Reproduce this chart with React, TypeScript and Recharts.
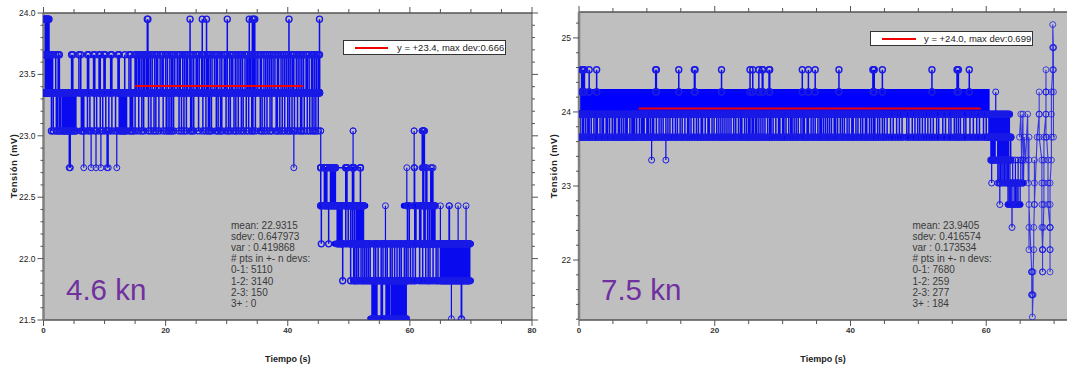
import React from "react";
import { LineChart, Line, XAxis, YAxis, CartesianGrid, ReferenceArea } from "recharts";

// ---------- left chart (4.6 kn) ----------
const leftXTicks = [0,5,10,15,20,25,30,35,40,45,50,55,60,65,70,75,80];
const leftYTicks = [21.5,21.6,21.7,21.8,21.9,22,22.1,22.2,22.3,22.4,22.5,22.6,22.7,22.8,22.9,23,23.1,23.2,23.3,23.4,23.5,23.6,23.7,23.8,23.9,24];
const leftStats = ["mean: 22.9315","sdev: 0.647973","var : 0.419868","# pts in +- n devs:","0-1: 5110","1-2: 3140","2-3: 150","3+ : 0"];
const leftFit = [{t:15,v:23.405},{t:42.5,v:23.405}];
const l2335to2366 = [0.1,0.3,0.5,0.7,0.9,1.1,1.3,1.5,2.0,2.4,2.6,4.6,4.8,5.8,6.1,7.2,7.4,8.2,8.4,9.1,9.3,9.9,10.1,11,11.2,12.2,12.4,13.3,14,14.3,15,15.2,15.5,15.7,16,16.3,16.5,16.8,17,17.2,17.5,17.8,18.2,18.5,18.7,19.1,19.4,19.6,20,20.3,20.7,21,21.2,21.5,21.9,22.2,22.4,22.8,23.1,23.4,23.6,24,24.3,24.6,25,25.2,25.5,25.9,26.1,26.4,26.8,27,27.3,27.6,28,28.3,28.5,28.9,29.2,29.6,29.8,30.1,30.5,30.8,31,31.4,31.7,32,32.3,32.6,33,33.3,33.5,33.9,34.2,34.5,34.8,35.1,35.5,35.7,36.1,36.4,36.7,37,37.3,37.6,37.9,38.3,38.5,38.9,39.2,39.5,39.8,40.1,40.5,40.8,41,41.4,41.7,42,42.3,42.6,43,43.2,43.5,43.9,44.1,44.4,44.7,45,45.2];
const l2335to2304 = [1.3,1.6,2.1,2.3,2.6,2.8,3.1,3.3,3.5,3.7,3.9,4.1,4.3,4.5,4.7,4.9,5.1,5.3,6.2,6.4,6.6,7.2,7.6,8.3,8.7,9.3,9.7,10.2,10.7,11.2,11.8,12.4,12.6,12.8,13,13.2,13.4,13.6,14.2,14.4,14.6,15,15.6,16.1,16.4,17.2,17.6,18.1,18.4,18.9,19.6,20.1,20.4,20.7,21,21.3,22.2,22.6,23,23.4,24.1,24.3,24.6,25.4,26.1,26.6,27,27.2,27.5,28.3,28.6,29,29.2,29.9,30.3,30.6,31.2,31.5,31.9,32.4,32.7,33.2,33.6,34.1,34.3,34.7,35.5,35.8,36.2,36.6,37.1,37.4,38.1,38.3,38.7,39.1,39.5,40,40.3,40.7,41.1,41.6,42.1,42.3,42.7,43.2,43.6,44,44.3,44.6,45];
const l2335to2395 = [0.1,0.2,0.3,0.4,0.5,0.6,0.7,0.8,0.9,17,17.1,24,26,26.7,30.1,33.7,34.2,34.4,34.6,40.2,45.2];
const l2304to2274 = [4.2,4.3,4.4,6.6,7.8,8.6,9.4,10.4,10.6,12,41];
const l2304to2274b = [45.4];
const l2304to2274c = [50.7];
const l2304to2274d = [60.7];
const l2304to2274e = [62,62.1,62.2,62.3,62.4];
const l2274to2243a = [45.4,46,46.2,46.4,47,47.2,47.4,47.6,47.8,49.5,49.7,50.6,50.8,51.9];
const l2243to2212a = [45.5,46.7,48.1,48.3,48.5,48.7,48.9,49.5,49.9,50.3,50.6,50.9,51.2,51.4,51.6,51.8,52,52.2,52.4];
const l2212to2182 = [49,50.3,50.8,51,51.3,51.6,52,52.3,52.6,52.9,53.2,53.5,54.1,54.4,54.8,55.3,55.6,56,56.3,56.8,57.1,57.5,57.9,58.3,58.6,59.1,59.4,59.7,60.1,60.5,60.9,61.6,62.1,62.6,63,63.3,63.8,64.3,64.6,65,65.2,65.4,65.6,65.8,66,66.2,66.4,66.6,66.8,67,67.2,67.4,67.6,67.8,68,68.2,68.4,68.6,68.8,69,69.2,69.4,69.6,69.8];
const l2182to2151 = [53.8,54,54.2,54.4,54.6,55.3,55.5,56.1,56.3,56.5,56.7,57,57.2,57.4,57.6,57.8,58,58.2,58.4,58.6,58.8,59,59.2,59.4];
const l2182to2151b = [66.8,68.4,68.5];
const l2212to2243b = [59.6,59.9,60.8,61,61.6,61.8,62.3,62.5,62.9,63.2,63.5,63.7,63.9,64.1];
const l2212to2243c = [56,65,66.4,66.5,67.9,69.2];
const l2243to2274b = [59.5,60.7,60.8,62.1,62.3,62.6,62.8,63.4,63.6,63.8];
const leftGroups = [
  {base:23.35,tip:23.66,times:l2335to2366},
  {base:23.35,tip:23.04,times:l2335to2304},
  {base:23.35,tip:23.95,times:l2335to2395},
  {base:23.04,tip:22.74,times:l2304to2274},
  {base:23.04,tip:22.74,times:l2304to2274b},
  {base:23.04,tip:22.74,times:l2304to2274c},
  {base:23.04,tip:22.74,times:l2304to2274d},
  {base:23.04,tip:22.74,times:l2304to2274e},
  {base:22.74,tip:22.43,times:l2274to2243a},
  {base:22.43,tip:22.12,times:l2243to2212a},
  {base:22.12,tip:21.82,times:l2212to2182},
  {base:21.82,tip:21.51,times:l2182to2151},
  {base:21.82,tip:21.51,times:l2182to2151b},
  {base:22.12,tip:22.43,times:l2212to2243b},
  {base:22.12,tip:22.43,times:l2212to2243c},
  {base:22.43,tip:22.74,times:l2243to2274b},
];
const leftRunLevels = [23.35,22.43,22.43,22.12,21.82,21.51];
const leftRunStarts = [0,45.3,59,47.7,50.7,53.5];
const leftRunEnds = [45.3,52.7,64.2,70,70,59.5];

// ---------- right chart (7.5 kn) ----------
const rightXTicks = [0,5,10,15,20,25,30,35,40,45,50,55,60,65,70];
const rightYTicks = [21.2,21.4,21.6,21.8,22,22.2,22.4,22.6,22.8,23,23.2,23.4,23.6,23.8,24,24.2,24.4,24.6,24.8,25,25.2];
const rightStats = ["mean: 23.9405","sdev: 0.416574","var : 0.173534","# pts in +- n devs:","0-1: 7680","1-2: 259","2-3: 277","3+ : 184"];
const rightFit = [{t:8.8,v:24.045},{t:59.2,v:24.045}];
const rightBandT = [0,60.5];
const rightBandV = [23.93,24.31];
const r2397to2366 = [0,0.2,0.5,0.7,1,1.3,1.5,1.8,2.2,2.5,2.7,3.1,3.4,3.6,4,4.2,4.5,4.9,5.2,5.4,5.8,6,6.3,6.6,6.9,7.1,7.5,7.8,8,8.2,8.5,8.9,9.2,9.4,9.6,10,10.2,10.5,10.8,11,11.4,11.8,12.1,12.4,12.8,13.1,13.4,13.8,14.2,14.5,14.9,15.2,15.6,16,16.2,16.5,16.9,17.3,17.6,18,18.2,18.6,19,19.2,19.6,19.9,20.3,20.6,20.9,21.2,21.5,21.8,22.1,22.4,22.8,23.1,23.5,23.8,24,24.4,24.7,25,25.2,25.5,25.7,26,26.2,26.5,26.8,27.1,27.4,27.8,28.1,28.3,28.6,29,29.4,29.6,30,30.2,30.5,30.9,31.2,31.4,31.7,32,32.3,32.7,33,33.2,33.6,33.8,34.2,34.5,34.8,35.2,35.5,35.7,36,36.3,36.6,36.9,37.2,37.6,37.8,38.1,38.5,38.8,39.1,39.5,39.8,40.2,40.4,40.8,41.1,41.5,41.8,42.2,42.4,42.8,43.1,43.4,43.6,44,44.3,44.7,45,45.4,45.9,46.3,46.8,47.2,47.6,48.3,48.6,49.1,49.5,49.9,50.2,50.6,51,51.4,51.8,52.2,52.7,53,53.6,54,54.5,54.8,55.3,55.6,55.9,56.2,56.7,57,57.6,58.1,58.6,59,59.6,60];
const r2427to2457 = [0.4,0.5,0.6,0.8,1.5,2.6,11.3,11.4,14.7,17,17.1,21,25.2,25.6,26.5,27,27.1,28,28.1,32.9,33.8,34.8,38.3,43.3,43.4,43.5,44.7,52,55.7,55.8,55.9,57.5];
const r2366to2335 = [10.7,12.8];
const r2366to2397tail = [60.4,60.6,60.8,61,61.2,61.4,61.6,61.8,62,62.2,62.4,62.6,62.8,63,63.2,63.4];
const r2366to2335tail = [60.7,60.9,61.1,61.3,61.7,61.9,62.1,62.3,62.5,62.7,62.9,63.1,63.3,63.6];
const r2335to2304tail = [60.8,61.7,61.9,62.1,62.3,62.5,62.7,62.9,63.1,63.3];
const r2397to2427tail = [61.4];
const r2304to2335tail = [63.2,63.5,63.9,64.3,64.7,65.1,65.4];
const r2304to2275tail = [62,63.2,63.4,63.6,63.8,64.1,64.3,64.5,64.7,65];
const r2275to2244tail = [63.8];
const rightTailT = [64.9,65.1,65.2,65.4,65.5,65.6,65.8,66.1,66.2,66.3,66.3,66.3,66.3,66.3,66.7,66.7,66.7,66.7,66.7,66.8,66.8,66.9,66.9,67,67,67.1,67.1,67.1,67.1,67.5,67.8,67.8,67.8,67.8,68.2,68.2,68.2,68.2,68.3,68.3,68.3,68.3,68.3,68.4,68.5,68.5,68.5,68.5,68.8,68.8,68.8,68.8,68.8,68.8,68.8,68.9,69.1,69.1,69.1,69.4,69.4,69.4,69.4,69.4,69.4,69.4,69.4,69.6,69.6,69.6,69.6,69.8,69.8,69.8,69.9,69.9,69.9,69.9,69.9];
const rightTailV = [23.66,23.97,23.35,23.97,23.04,23.66,23.35,23.97,23.04,23.66,23.35,22.44,22.14,22.75,21.84,21.84,21.53,21.53,21.84,21.53,21.23,21.53,21.84,22.14,22.44,22.75,23.04,23.35,22.75,23.66,23.97,24.27,23.97,23.66,23.35,23.04,22.75,22.44,22.14,21.84,22.14,21.84,22.14,22.44,22.75,23.04,23.35,23.66,23.97,24.27,24.57,24.27,24.27,23.97,23.66,23.66,23.35,23.04,22.75,22.44,22.44,22.14,21.84,22.14,22.44,22.75,23.04,23.35,23.66,23.97,24.27,24.57,24.87,25.18,24.87,24.87,24.57,24.27,23.66];
const rightGroups = [
  {base:23.97,tip:23.66,times:r2397to2366},
  {base:24.27,tip:24.57,times:r2427to2457},
  {base:23.66,tip:23.35,times:r2366to2335},
  {base:23.66,tip:23.97,times:r2366to2397tail},
  {base:23.66,tip:23.35,times:r2366to2335tail},
  {base:23.35,tip:23.04,times:r2335to2304tail},
  {base:23.97,tip:24.27,times:r2397to2427tail},
  {base:23.04,tip:23.35,times:r2304to2335tail},
  {base:23.04,tip:22.75,times:r2304to2275tail},
  {base:22.75,tip:22.44,times:r2275to2244tail},
];
const rightTail = rightTailT.map((t,i)=>({t,v:rightTailV[i]}));
const rightRunLevels = [23.66,23.97,23.66,23.35,23.04,22.75];
const rightRunStarts = [0,60.4,60.5,60.7,63.2,63.2];
const rightRunEnds = [60.4,63.5,63.7,63.3,65.4,65];

const axisFont = "'Liberation Sans', Arial, sans-serif";
const BLUE = "#0a0aee";
const dotStyle = { r: 3, fill: "none", stroke: "#1a1ae6", strokeWidth: 1 };

const spikeData = (g: {base:number;tip:number;times:number[]}) =>
  g.times.flatMap((t) => [{t,v:g.base},{t,v:g.tip},{t,v:g.base}]);
const runData = (levels:number[], starts:number[], ends:number[]) =>
  levels.map((v,i)=>[{t:starts[i],v},{t:ends[i],v}]);

const isStep = (v:number, step:number) => Math.abs(v/step - Math.round(v/step)) < 1e-6;

const xTick = (dir:1|-1, labels:boolean) => (p:any) => {
  const major = isStep(p.payload.value, 20);
  const len = major ? 6 : 4;
  return <g>
    <line x1={p.x} x2={p.x} y1={p.y} y2={p.y+dir*len} stroke="#555" strokeWidth={1}/>
    {labels && major && <text x={p.x} y={p.y+13} textAnchor="middle" fontSize={8} fontWeight={700} fill="#333" fontFamily={axisFont}>{p.payload.value}</text>}
  </g>;
};
const yTick = (dir:1|-1, labels:boolean, step:number, dec:number) => (p:any) => {
  const major = isStep(p.payload.value, step);
  const len = major ? 6 : 3;
  return <g>
    <line x1={p.x} x2={p.x+dir*len} y1={p.y} y2={p.y} stroke="#555" strokeWidth={1}/>
    {labels && major && <text x={p.x-8} y={p.y+3} textAnchor="end" fontSize={8.5} fill="#222" fontFamily={axisFont}>{p.payload.value.toFixed(dec)}</text>}
  </g>;
};
const yTitle = () => (
  <text x={16.5} y={166} transform="rotate(-90 16.5 166)" textAnchor="middle" fontSize={9} fontWeight={700} letterSpacing={0.7} fill="#222" fontFamily={axisFont}>Tensión (mV)</text>
);

function Panel(props:any) {
  const { left, width, margin, xDomain, yDomain, xTicks, yTicks, groups, extra, runs, fit, step, dec, rightAxis, band } = props;
  return (
    <div style={{position:"absolute",left,top:0}}>
      <LineChart width={width} height={367} margin={margin}>
        <CartesianGrid horizontal={false} vertical={false} fill="#bfbfbf" xAxisId="b" yAxisId="l"/>
        <XAxis xAxisId="b" type="number" dataKey="t" orientation="bottom" domain={xDomain} ticks={xTicks} height={30} tickSize={0} tickMargin={0} tickLine={false} interval={0} allowDataOverflow axisLine={{stroke:"#555",strokeWidth:1.5}} tick={xTick(1,true)}
          label={{value:"Tiempo (s)",position:"insideBottom",offset:-12,fontSize:9,fontWeight:700,fill:"#222",fontFamily:axisFont}}/>
        <XAxis xAxisId="t" type="number" dataKey="t" orientation="top" domain={xDomain} ticks={xTicks} height={10} tickSize={0} tickMargin={0} tickLine={false} interval={0} allowDataOverflow axisLine={{stroke:"#555",strokeWidth:1.5}} tick={xTick(-1,false)}/>
        <YAxis yAxisId="l" type="number" orientation="left" domain={yDomain} ticks={yTicks} width={30} tickSize={0} tickMargin={0} tickLine={false} interval={0} allowDataOverflow axisLine={{stroke:"#808080",strokeWidth:2.5}} tick={yTick(-1,true,step,dec)}
          label={{content:yTitle}}/>
        {rightAxis && <YAxis yAxisId="r" type="number" orientation="right" domain={yDomain} ticks={yTicks} width={8} tickSize={0} tickMargin={0} tickLine={false} interval={0} allowDataOverflow axisLine={{stroke:"#555",strokeWidth:1}} tick={yTick(1,false,step,dec)}/>}
        {band && <ReferenceArea xAxisId="b" yAxisId="l" x1={band.t[0]} x2={band.t[1]} y1={band.v[0]} y2={band.v[1]} fill="#0000ff" fillOpacity={1} stroke="none"/>}
        {runs.map((d:any,i:number)=>(
          <Line key={"r"+i} xAxisId="b" yAxisId="l" data={d} dataKey="v" stroke="#0000f0" strokeWidth={6} strokeLinecap="round" dot={false} activeDot={false} isAnimationActive={false} legendType="none"/>
        ))}
        {groups.map((g:any,i:number)=>{
          const dense = g.times.length > 12;
          return <Line key={i} xAxisId="b" yAxisId="l" data={spikeData(g)} dataKey="v" stroke={BLUE} strokeWidth={dense ? 1.5 : 1.2} dot={dense ? {...dotStyle, strokeWidth:1.4} : dotStyle} activeDot={false} isAnimationActive={false} legendType="none"/>;
        })}
        {extra.map((d:any,i:number)=>(
          <Line key={"e"+i} xAxisId="b" yAxisId="l" data={d} dataKey="v" stroke={BLUE} strokeWidth={1.1} strokeOpacity={0.75} dot={dotStyle} activeDot={false} isAnimationActive={false} legendType="none"/>
        ))}
        <Line xAxisId="b" yAxisId="l" data={fit} dataKey="v" stroke="#f00000" strokeWidth={2} dot={false} activeDot={false} isAnimationActive={false} legendType="none"/>
      </LineChart>
    </div>
  );
}

function Overlay({x,lines,label,labelX,box,text}:any) {
  return <>
    {lines.map((s:string,i:number)=>(
      <div key={i} style={{position:"absolute",left:x,top:220+i*11.1,font:`10px/12px ${axisFont}`,color:"#3a3a3a",whiteSpace:"pre"}}>{s}</div>
    ))}
    <div style={{position:"absolute",left:labelX,top:272,font:`29.5px/36px ${axisFont}`,color:"#7030a0",whiteSpace:"pre"}}>{label}</div>
    <div style={{position:"absolute",left:box.x,top:box.y,width:box.w,height:15,boxSizing:"border-box",background:"#fff",border:"1px solid #333"}}/>
    <div style={{position:"absolute",left:box.x+12,top:box.y+6.5,width:box.line,height:2,background:"#f00000"}}/>
    <div style={{position:"absolute",left:box.tx,top:box.y+1,font:`9.5px/13px ${axisFont}`,color:"#222",whiteSpace:"pre"}}>{text}</div>
  </>;
}

export default function App() {
  return (
    <div style={{position:"absolute",left:0,top:0,width:1067,height:367,background:"#fff",overflow:"hidden"}}>
      <Panel left={0} width={540} margin={{top:3,right:0,bottom:17,left:13.5}} xDomain={[0,80]} yDomain={[21.5,24]} xTicks={leftXTicks} yTicks={leftYTicks} groups={leftGroups} runs={runData(leftRunLevels,leftRunStarts,leftRunEnds)} extra={[]} fit={leftFit} step={0.5} dec={1} rightAxis/>
      <Panel left={540} width={527} margin={{top:2,right:0,bottom:17,left:9}} xDomain={[0,71.9]} yDomain={[21.19,25.35]} xTicks={rightXTicks} yTicks={rightYTicks} groups={rightGroups} runs={runData(rightRunLevels,rightRunStarts,rightRunEnds)} extra={[rightTail]} fit={rightFit} step={1} dec={0} band={{t:rightBandT,v:rightBandV}}/>
      <Overlay x={231} lines={leftStats} label="4.6 kn" labelX={66} box={{x:343,y:40,w:163,line:33,tx:397}} text="y = +23.4, max dev:0.666"/>
      <Overlay x={912.5} lines={rightStats} label="7.5 kn" labelX={601} box={{x:870,y:31,w:163,line:34,tx:924}} text="y = +24.0, max dev:0.699"/>
    </div>
  );
}
